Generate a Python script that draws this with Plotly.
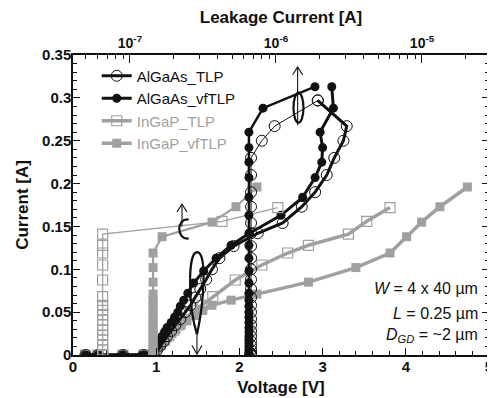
import plotly.graph_objects as go

# ---------------- data ----------------
# AlGaAs, TLP (open circles)
al_tlp_I = [0, 0, 0, 0, 0.002, 0.006, 0.011, 0.016, 0.022, 0.028, 0.035, 0.042, 0.050, 0.058,
            0.067, 0.077, 0.088, 0.100, 0.113, 0.127, 0.142, 0.154, 0.173, 0.190, 0.210, 0.230,
            0.250, 0.267, 0.297]
al_tlp_V = [0.15, 0.30, 0.60, 0.85, 0.97, 1.01, 1.05, 1.09, 1.13, 1.18, 1.23, 1.29, 1.35, 1.41,
            1.47, 1.53, 1.60, 1.67, 1.76, 1.93, 2.22, 2.52, 2.75, 2.91, 3.05, 3.14,
            3.25, 3.29, 2.94]
al_tlp_leak = [6.75e-7] * 26 + [8.0e-7, 9.8e-7, 1.94e-6]

# AlGaAs, vfTLP (filled circles)
al_vf_I = [0, 0, 0, 0, 0.003, 0.006, 0.010, 0.014, 0.018, 0.022, 0.027, 0.032, 0.038, 0.044,
           0.050, 0.057, 0.064, 0.072, 0.084, 0.098, 0.113, 0.128, 0.142, 0.163, 0.184, 0.207,
           0.225, 0.242, 0.260, 0.288, 0.313]
al_vf_V = [0.15, 0.30, 0.60, 0.85, 0.95, 0.98, 1.01, 1.03, 1.05, 1.07, 1.10, 1.13, 1.18, 1.22,
           1.26, 1.29, 1.33, 1.38, 1.45, 1.57, 1.72, 1.90, 2.12, 2.50, 2.76, 2.91,
           2.99, 3.00, 2.97, 3.13, 3.11]
al_vf_leak = [6.53e-7] * 29 + [8.15e-7, 1.85e-6]

# InGaP, TLP (open squares)
in_tlp_I = [0, 0, 0, 0, 0.006, 0.012, 0.0175, 0.023, 0.029, 0.035, 0.041, 0.047, 0.052, 0.058,
            0.068, 0.0875, 0.105, 0.119, 0.128, 0.141, 0.156, 0.172]
in_tlp_V = [0.15, 0.30, 0.60, 0.85, 1.00, 1.05, 1.10, 1.15, 1.21, 1.27, 1.33, 1.40, 1.47, 1.55,
            1.68, 1.95, 2.27, 2.58, 2.83, 3.31, 3.53, 3.81]
in_tlp_leak = [6.5e-8] * 20 + [4.27e-7, 1.03e-6]

# InGaP, vfTLP (filled squares)
in_vf_I = [0, 0, 0, 0, 0.004, 0.008, 0.012, 0.016, 0.020, 0.025, 0.030, 0.035, 0.040, 0.046,
           0.052, 0.058, 0.064, 0.071, 0.085, 0.102, 0.119, 0.138, 0.155, 0.173, 0.196]
in_vf_V = [0.15, 0.30, 0.60, 0.85, 0.98, 1.02, 1.06, 1.10, 1.14, 1.19, 1.24, 1.30, 1.37, 1.46,
           1.56, 1.67, 1.90, 2.21, 2.83, 3.40, 3.81, 4.01, 4.19, 4.41, 4.74]
in_vf_leak = [1.44e-7] * 21 + [1.66e-7, 3.65e-7, 5.32e-7, 7.41e-7]

y_tickvals = [0, 0.05, 0.1, 0.15, 0.2, 0.25, 0.3, 0.35]
y_ticktext = ["0", "0.05", "0.1", "0.15", "0.2", "0.25", "0.3", "0.35"]
top_tickvals = [1e-7, 1e-6, 1e-5]
top_ticktext = ["10<sup>-7</sup>", "10<sup>-6</sup>", "10<sup>-5</sup>"]
top_minor = [m * 10.0 ** e for e in (-8, -7, -6, -5) for m in range(2, 10)]

BLACK = "#111111"
GRAY = "#a0a0a0"
FONT = "Liberation Sans, Arial, sans-serif"

fig = go.Figure()

# ---- InGaP traces (drawn first, underneath) ----
fig.add_trace(go.Scatter(x=in_tlp_leak, y=in_tlp_I, xaxis="x2", mode="lines+markers",
                         line=dict(color=GRAY, width=1.3),
                         marker=dict(symbol="square-open", size=10, color=GRAY, line=dict(width=1.2)),
                         showlegend=False))
fig.add_trace(go.Scatter(x=in_vf_leak, y=in_vf_I, xaxis="x2", mode="lines+markers",
                         line=dict(color=GRAY, width=2.2),
                         marker=dict(symbol="square", size=9, color=GRAY),
                         showlegend=False))
fig.add_trace(go.Scatter(x=in_tlp_V, y=in_tlp_I, mode="lines+markers", name="<span style='color:#a0a0a0'>InGaP_TLP</span>",
                         line=dict(color=GRAY, width=3.5), legendrank=3,
                         marker=dict(symbol="square-open", size=10, color=GRAY, line=dict(width=1.2))))
fig.add_trace(go.Scatter(x=in_vf_V, y=in_vf_I, mode="lines+markers", name="<span style='color:#a0a0a0'>InGaP_vfTLP</span>",
                         line=dict(color=GRAY, width=3.5), legendrank=4,
                         marker=dict(symbol="square", size=9, color=GRAY)))

# ---- AlGaAs traces ----
fig.add_trace(go.Scatter(x=al_tlp_leak, y=al_tlp_I, xaxis="x2", mode="lines+markers",
                         line=dict(color=BLACK, width=1),
                         marker=dict(symbol="circle-open", size=11, color=BLACK, line=dict(width=1)),
                         showlegend=False))
fig.add_trace(go.Scatter(x=al_vf_leak, y=al_vf_I, xaxis="x2", mode="lines+markers",
                         line=dict(color=BLACK, width=2.5),
                         marker=dict(symbol="circle", size=9, color=BLACK),
                         showlegend=False))
fig.add_trace(go.Scatter(x=al_tlp_V, y=al_tlp_I, mode="lines+markers", name="AlGaAs_TLP",
                         line=dict(color=BLACK, width=3), legendrank=1,
                         marker=dict(symbol="circle-open", size=11, color=BLACK, line=dict(width=1))))
fig.add_trace(go.Scatter(x=al_vf_V, y=al_vf_I, mode="lines+markers", name="AlGaAs_vfTLP",
                         line=dict(color=BLACK, width=3), legendrank=2,
                         marker=dict(symbol="circle", size=9, color=BLACK)))

# ---- annotation arrows (curls) ----
thick = dict(color=BLACK, width=2.2)
thin = dict(color=BLACK, width=1.1)
shapes = [
    # top-right curl arrow (-> top axis)
    dict(type="path", xref="x", yref="y", line=thin, path="M 2.70,0.268 L 2.70,0.336"),
    dict(type="path", xref="x", yref="y", line=thin, path="M 2.64,0.327 L 2.70,0.336 L 2.76,0.327"),
    dict(type="circle", xref="x", yref="y", line=thick, x0=2.65, x1=2.77, y0=0.271, y1=0.306),
    # "C" arrow (-> top axis)
    dict(type="path", xref="x", yref="y", line=thin, path="M 1.31,0.150 L 1.31,0.176"),
    dict(type="path", xref="x", yref="y", line=thin, path="M 1.25,0.167 L 1.31,0.176 L 1.37,0.167"),
    dict(type="path", xref="x", yref="y", line=thick,
         path="M 1.39,0.158 C 1.24,0.160 1.24,0.134 1.39,0.136"),
    # big loop arrow (-> bottom axis)
    dict(type="path", xref="x", yref="y", line=thick,
         path="M 1.49,0.024 C 1.39,0.055 1.37,0.119 1.49,0.120 C 1.61,0.121 1.58,0.064 1.49,0.024"),
    dict(type="path", xref="x", yref="y", line=thin, path="M 1.49,0.024 L 1.49,0.001"),
    dict(type="path", xref="x", yref="y", line=thin, path="M 1.43,0.011 L 1.49,0.001 L 1.55,0.011"),
]

annos = [
    dict(text="<i>W</i> = 4 x 40 µm", x=4.89, y=0.078),
    dict(text="<i>L</i> = 0.25 µm", x=4.89, y=0.049),
    dict(text="<i>D<sub>GD</sub></i> = ~2 µm", x=4.89, y=0.023),
]
annotations = [dict(a, xref="x", yref="y", xanchor="right", yanchor="middle", showarrow=False,
                    font=dict(family=FONT, size=16, color=BLACK)) for a in annos]

tickfont = dict(family=FONT, size=15, color=BLACK, weight="bold")
titlefont = dict(family=FONT, size=17, color=BLACK, weight="bold")

# page body has an 8px margin -> figure is 8px smaller and offset accordingly
fig.update_layout(
    width=487, height=390,
    margin=dict(l=65, r=6, t=47, b=43),
    paper_bgcolor="white", plot_bgcolor="white",
    font=dict(family=FONT, color=BLACK),
    shapes=shapes, annotations=annotations,
    legend=dict(x=0.057, y=0.985, xanchor="left", yanchor="top", bgcolor="rgba(0,0,0,0)",
                font=dict(family=FONT, size=15, color=BLACK), tracegroupgap=0),
    xaxis=dict(range=[0, 5], dtick=1, ticks="inside", ticklen=7, tickwidth=1.2, tickcolor=BLACK,
               minor=dict(dtick=0.2, ticks="inside", ticklen=4, tickcolor=BLACK),
               showline=True, linecolor=BLACK, linewidth=1.5, showgrid=False, zeroline=False,
               automargin=False, ticklabelstandoff=-3,
               tickfont=tickfont, title=dict(text="Voltage [V]", font=titlefont, standoff=7)),
    xaxis2=dict(type="log", overlaying="x", side="top", range=[-7.39, -4.541],
                tickvals=top_tickvals, ticktext=top_ticktext, ticks="inside", ticklen=8,
                tickwidth=1.2, tickcolor=BLACK, automargin=False,
                minor=dict(tickvals=top_minor, ticks="inside", ticklen=4, tickcolor=BLACK),
                showline=True, linecolor=BLACK, linewidth=1.5, showgrid=False, zeroline=False,
                tickfont=dict(family=FONT, size=14, color=BLACK, weight="bold"),
                title=dict(text="Leakage Current [A]", font=titlefont, standoff=8)),
    yaxis=dict(range=[0, 0.35], tickvals=y_tickvals, ticktext=y_ticktext, ticks="inside",
               ticklen=7, tickwidth=1.2, tickcolor=BLACK, mirror="ticks", automargin=False,
               ticklabelstandoff=-3,
               minor=dict(dtick=0.01, ticks="inside", ticklen=4, tickcolor=BLACK),
               showline=True, linecolor=BLACK, linewidth=1.5, showgrid=False, zeroline=False,
               tickfont=tickfont, title=dict(text="Current [A]", font=titlefont, standoff=9)),
)

fig.write_html("out.html")
